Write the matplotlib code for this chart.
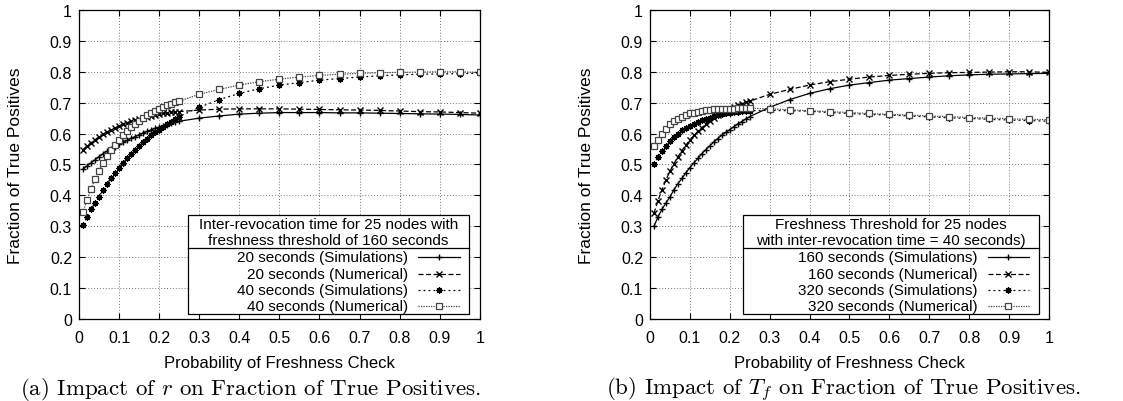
import matplotlib
matplotlib.use("Agg")
import matplotlib.pyplot as plt
from matplotlib.lines import Line2D
from matplotlib.patches import Rectangle
from matplotlib.ticker import MultipleLocator, FormatStrFormatter

plt.rcParams['font.family'] = ['Liberation Sans', 'DejaVu Sans']
plt.rcParams['mathtext.fontset'] = 'cm'

# probability of freshness check
p = [0.01, 0.02, 0.03, 0.04, 0.05, 0.06, 0.07, 0.08, 0.09, 0.10,
     0.11, 0.12, 0.13, 0.14, 0.15, 0.16, 0.17, 0.18, 0.19, 0.20,
     0.21, 0.22, 0.23, 0.24, 0.25, 0.30, 0.35, 0.40, 0.45, 0.50,
     0.55, 0.60, 0.65, 0.70, 0.75, 0.80, 0.85, 0.90, 0.95, 1.00]

# (a) inter-revocation time, threshold 160 s
r20_sim = [0.485, 0.495, 0.505, 0.515, 0.525, 0.535, 0.543, 0.550, 0.558, 0.565,
           0.572, 0.578, 0.585, 0.590, 0.596, 0.602, 0.607, 0.612, 0.617, 0.621,
           0.625, 0.629, 0.633, 0.636, 0.640, 0.650, 0.657, 0.663, 0.666, 0.668,
           0.668, 0.668, 0.667, 0.667, 0.666, 0.665, 0.664, 0.663, 0.662, 0.660]
r20_num = [0.548, 0.560, 0.570, 0.580, 0.590, 0.598, 0.605, 0.612, 0.618, 0.624,
           0.630, 0.635, 0.640, 0.644, 0.648, 0.652, 0.655, 0.658, 0.661, 0.663,
           0.665, 0.667, 0.669, 0.670, 0.671, 0.676, 0.679, 0.680, 0.680, 0.680,
           0.679, 0.678, 0.677, 0.676, 0.675, 0.673, 0.671, 0.670, 0.668, 0.666]
r40_sim = [0.305, 0.330, 0.355, 0.375, 0.395, 0.418, 0.438, 0.455, 0.473, 0.490,
           0.505, 0.520, 0.535, 0.548, 0.560, 0.573, 0.584, 0.595, 0.604, 0.613,
           0.622, 0.631, 0.639, 0.647, 0.655, 0.685, 0.710, 0.730, 0.745, 0.757,
           0.765, 0.773, 0.778, 0.783, 0.787, 0.790, 0.792, 0.793, 0.794, 0.795]
r40_num = [0.345, 0.385, 0.420, 0.452, 0.480, 0.505, 0.526, 0.546, 0.564, 0.580,
           0.595, 0.608, 0.620, 0.631, 0.641, 0.650, 0.659, 0.667, 0.674, 0.681,
           0.687, 0.692, 0.697, 0.701, 0.705, 0.727, 0.743, 0.757, 0.768, 0.776,
           0.783, 0.788, 0.792, 0.795, 0.797, 0.798, 0.799, 0.800, 0.800, 0.798]

# (b) freshness threshold, inter-revocation 40 s
t160_sim = [0.300, 0.330, 0.355, 0.375, 0.395, 0.418, 0.438, 0.455, 0.473, 0.490,
            0.505, 0.520, 0.535, 0.548, 0.560, 0.573, 0.584, 0.595, 0.604, 0.613,
            0.622, 0.631, 0.639, 0.647, 0.655, 0.685, 0.710, 0.730, 0.745, 0.757,
            0.765, 0.773, 0.778, 0.783, 0.787, 0.790, 0.792, 0.793, 0.794, 0.795]
t160_num = [0.342, 0.383, 0.418, 0.450, 0.478, 0.503, 0.525, 0.545, 0.563, 0.579,
            0.594, 0.607, 0.619, 0.630, 0.640, 0.650, 0.659, 0.667, 0.674, 0.681,
            0.687, 0.692, 0.697, 0.701, 0.705, 0.727, 0.743, 0.757, 0.768, 0.776,
            0.783, 0.788, 0.792, 0.795, 0.797, 0.798, 0.799, 0.800, 0.800, 0.798]
t320_sim = [0.500, 0.525, 0.545, 0.560, 0.575, 0.590, 0.600, 0.610, 0.617, 0.625,
            0.632, 0.638, 0.643, 0.648, 0.652, 0.656, 0.660, 0.663, 0.666, 0.668,
            0.670, 0.671, 0.672, 0.673, 0.674, 0.675, 0.674, 0.672, 0.668, 0.665,
            0.662, 0.660, 0.657, 0.654, 0.651, 0.649, 0.646, 0.644, 0.642, 0.640]
t320_num = [0.560, 0.580, 0.600, 0.615, 0.630, 0.640, 0.648, 0.655, 0.660, 0.665,
            0.668, 0.671, 0.673, 0.675, 0.677, 0.678, 0.679, 0.680, 0.680, 0.681,
            0.681, 0.682, 0.682, 0.682, 0.682, 0.680, 0.677, 0.674, 0.671, 0.668,
            0.665, 0.662, 0.660, 0.657, 0.655, 0.652, 0.650, 0.648, 0.646, 0.645]

styles = [
    dict(color='black', linestyle='-', marker='+', markersize=5, lw=0.9),
    dict(color='black', linestyle=(0, (4, 2)), marker='x', markersize=4, lw=0.9),
    dict(color='black', linestyle=(0, (1.5, 2.5)), marker=(8, 2, 0), markersize=4.5,
         markeredgewidth=0.9, lw=0.9),
    dict(color='#444444', linestyle=(0, (1, 1)), marker='s', markersize=4,
         markerfacecolor='white', markeredgewidth=0.9, lw=0.9),
]

panels = [
    dict(rect=[0.0703, 0.204, 0.357, 0.7687],
         series=[r20_sim, r20_num, r40_sim, r40_num],
         labels=['20 seconds (Simulations)', '20 seconds (Numerical)',
                 '40 seconds (Simulations)', '40 seconds (Numerical)'],
         title=['Inter-revocation time for 25 nodes with',
                'freshness threshold of 160 seconds'],
         box=(0.272, 0.973), ylabel_x=0.0134,
         caption='(a) Impact of $r$ on Fraction of True Positives.', cap_x=0.2235),
    dict(rect=[0.5788, 0.204, 0.3553, 0.7687],
         series=[t160_sim, t160_num, t320_sim, t320_num],
         labels=['160 seconds (Simulations)', '160 seconds (Numerical)',
                 '320 seconds (Simulations)', '320 seconds (Numerical)'],
         title=['Freshness Threshold for 25 nodes',
                'with inter-revocation time = 40 seconds)'],
         box=(0.233, 0.975), ylabel_x=0.5227,
         caption='(b) Impact of $T_f$ on Fraction of True Positives.', cap_x=0.751),
]

fig = plt.figure(figsize=(11.23, 4.02), dpi=100)

for pn in panels:
    ax = fig.add_axes(pn['rect'])
    for ys, st in zip(pn['series'], styles):
        ax.plot(p, ys, **st)
    ax.set_xlim(0, 1)
    ax.set_ylim(0, 1)
    ax.xaxis.set_major_locator(MultipleLocator(0.1))
    ax.yaxis.set_major_locator(MultipleLocator(0.1))
    ax.xaxis.set_major_formatter(FormatStrFormatter('%g'))
    ax.yaxis.set_major_formatter(FormatStrFormatter('%g'))
    ax.tick_params(direction='in', top=True, right=True, length=4, width=0.8,
                   labelsize=11.5)
    ax.tick_params(axis='x', pad=8)
    ax.tick_params(axis='y', pad=5)
    ax.grid(True, color='#777777', linestyle=(0, (1, 2)), lw=0.7)
    for s in ax.spines.values():
        s.set_linewidth(0.9)
    ax.set_xlabel('Probability of Freshness Check', fontsize=12, labelpad=7)
    fig.text(pn['ylabel_x'], 0.204 + 0.7687 / 2, 'Fraction of True Positives',
             rotation=90, ha='center', va='center', fontsize=12.5)

    # legend box drawn like gnuplot's keybox with title
    x0, x1 = pn['box']
    ax.add_patch(Rectangle((x0, 0.016), x1 - x0, 0.321, transform=ax.transAxes,
                           facecolor='white', edgecolor='black', lw=0.9, zorder=5))
    ax.plot([x0, x1], [0.23, 0.23], transform=ax.transAxes, color='black',
            lw=0.9, zorder=6)
    xc = (x0 + x1) / 2
    ax.text(xc, 0.307, pn['title'][0], transform=ax.transAxes, ha='center',
            va='center', fontsize=11, zorder=7)
    ax.text(xc, 0.256, pn['title'][1], transform=ax.transAxes, ha='center',
            va='center', fontsize=11, zorder=7)
    for yy, lab, st in zip([0.2006, 0.1456, 0.0939, 0.042], pn['labels'], styles):
        ax.text(0.821, yy, lab, transform=ax.transAxes, ha='right', va='center',
                fontsize=11, zorder=7)
        line_st = {k: v for k, v in st.items() if k != 'marker'}
        ax.add_line(Line2D([0.846, 0.95], [yy, yy], transform=ax.transAxes,
                           zorder=7, **line_st))
        ax.add_line(Line2D([0.898], [yy], transform=ax.transAxes, zorder=7,
                           linestyle='none', **{k: v for k, v in st.items()
                                                if k not in ('linestyle', 'lw')}))

    fig.text(pn['cap_x'], 0.03, pn['caption'], ha='center', va='center',
             fontsize=16.5, family='cmr10')

fig.savefig('out.png', dpi=100)
